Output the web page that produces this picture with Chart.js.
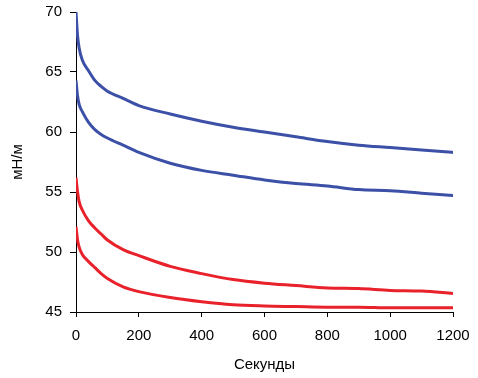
<!DOCTYPE html>
<html>
<head>
<meta charset="utf-8">
<script src="https://cdn.jsdelivr.net/npm/chart.js@4"></script>
<style>
  html, body { margin: 0; padding: 0; background: #fff; }
  #wrap { width: 478px; height: 378px; position: relative; }
</style>
</head>
<body>
<div id="wrap"><canvas id="chart"></canvas></div>
<script>
// seconds
const seconds = [0, 5, 10, 20, 40, 60, 80, 100, 150, 200, 300, 400, 500, 600, 700, 800, 900, 1000, 1100, 1200];

// surface tension, mN/m
const blueTop    = [70.0, 68.0, 67.0, 66.0, 65.1, 64.3, 63.8, 63.4, 62.8, 62.2, 61.5, 60.9, 60.4, 60.0, 59.6, 59.2, 58.9, 58.7, 58.5, 58.3];
const blueBottom = [64.3, 63.0, 62.3, 61.7, 60.8, 60.2, 59.8, 59.5, 58.9, 58.3, 57.4, 56.8, 56.4, 56.0, 55.7, 55.5, 55.2, 55.1, 54.9, 54.7];
const redTop     = [56.2, 55.0, 54.2, 53.5, 52.6, 52.0, 51.5, 51.0, 50.2, 49.7, 48.8, 48.2, 47.7, 47.4, 47.2, 47.0, 46.95, 46.8, 46.75, 46.55];
const redBottom  = [52.1, 51.0, 50.4, 49.8, 49.2, 48.7, 48.2, 47.8, 47.1, 46.7, 46.2, 45.85, 45.6, 45.5, 45.45, 45.4, 45.4, 45.35, 45.35, 45.35];

const yTicks = [45, 50, 55, 60, 65, 70];
const xTicks = [0, 200, 400, 600, 800, 1000, 1200];

const BLUE = "#3b50a6";
const RED = "#e8212b";

function toPoints(values){
    return seconds.map((s, i) => ({x: s, y: values[i]}));
}

function line(values, color){
    return {
        data: toPoints(values),
        borderColor: color,
        backgroundColor: color,
        borderWidth: 3,
        pointRadius: 0,
        cubicInterpolationMode: "monotone",
        fill: false
    };
}

const font = {family: "'Liberation Sans', Arial, sans-serif", size: 15};

new Chart(document.getElementById("chart").getContext("2d"), {
    type: "line",
    data: {
        datasets: [
            line(blueTop, BLUE),
            line(blueBottom, BLUE),
            line(redTop, RED),
            line(redBottom, RED)
        ]
    },
    options: {
        responsive: true,
        maintainAspectRatio: false,
        animation: false,
        layout: { padding: {left: 0, right: 25, top: 12, bottom: 0} },
        plugins: {
            legend: { display: false },
            tooltip: { enabled: false }
        },
        scales: {
            x: {
                type: "linear",
                min: 0,
                max: 1200,
                afterBuildTicks: (axis) => { axis.ticks = xTicks.map(v => ({value: v})); },
                afterFit: (axis) => { axis.height = 66; axis.paddingLeft = 0; axis.paddingRight = 0; },
                grid: { drawOnChartArea: false, drawTicks: true, tickLength: 5, color: "#000" },
                border: { color: "#000", width: 1 },
                ticks: { color: "#000", font: font, padding: 10, maxRotation: 0, callback: (v) => String(v) },
                title: { display: true, text: "Секунды", color: "#000", font: font, padding: {top: 0, bottom: 4} }
            },
            y: {
                type: "linear",
                min: 45,
                max: 70,
                afterBuildTicks: (axis) => { axis.ticks = yTicks.map(v => ({value: v})); },
                afterFit: (axis) => { axis.width = 76; axis.paddingTop = 0; axis.paddingBottom = 0; },
                grid: { drawOnChartArea: false, drawTicks: true, tickLength: 6, color: "#000" },
                border: { color: "#000", width: 1 },
                ticks: { color: "#000", font: font, padding: 8 },
                title: { display: true, text: "мН/м", color: "#000", font: font, padding: {top: 9, bottom: 4} }
            }
        }
    }
});
</script>
</body>
</html>
